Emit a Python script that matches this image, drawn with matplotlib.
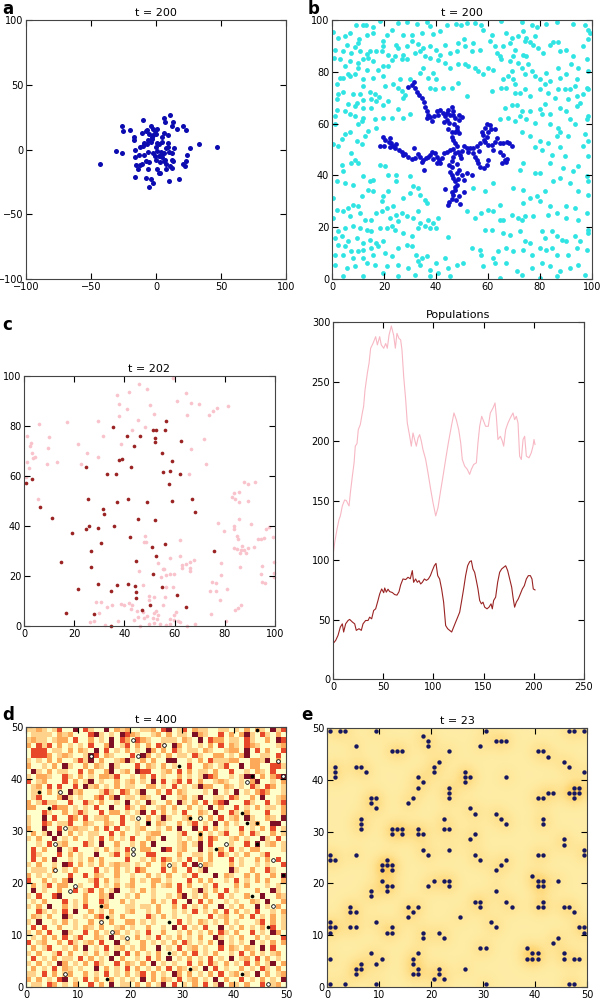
import matplotlib.pyplot as plt
import numpy as np
from matplotlib.colors import ListedColormap

plt.rcParams['font.family'] = 'DejaVu Sans'
plt.rcParams['font.size'] = 7

# ---------------- panel a : walkers, t = 200
a_pts = [(-43, -11), (-31, -1), (-26, -3), (-26, 18), (-25, 14), (-20, 15), (-17, 10), (-17, 7),
         (-16, 0), (-16, -6), (-16, -21), (-15, -12), (-14, -15), (-12, 2), (-12, -12), (-11, -11),
         (-10, 23), (-11, 13), (-9, -4), (-9, 5), (-8, 14), (-8, -22), (-8, -9), (-7, 15), (-6, 7),
         (-6, -15), (-5, -10), (-5, -29), (-4, 18), (-4, -23), (-3, 10), (-2, -26), (-2, -3), (-2, 11),
         (-1, 14), (0, 2), (1, 16), (1, 5), (1, -15), (2, -18), (2, -5), (3, -18), (4, -5), (5, 6),
         (5, 10), (6, 13), (6, -3), (6, 24), (7, 21), (7, -8), (8, -15), (8, -11), (9, 2), (9, 11),
         (10, -24), (11, 27), (12, 18), (12, -3), (12, -14), (12, -8), (13, 21), (13, -9), (14, 1),
         (16, 16), (18, -23), (21, 18), (21, -11), (22, -13), (23, 15), (23, -9), (24, -4), (26, 1),
         (33, 4), (47, 2), (-3, 8), (0, 12), (-4, 6), (2, 4), (4, -2), (0, -8), (3, -10), (-1, -5),
         (-6, -2), (8, 1), (10, -2), (-10, 3), (-2, 16), (5, -6), (9, 5), (-13, -4), (-7, 4), (1, -1),
         (6, -9), (11, -13), (-5, 12)]

# ---------------- panel b : DLA cluster and free particles, t = 200
b_free = [
    (0.5, 95.4), (2.4, 93.1), (5, 93.7), (6.9, 95), (9.2, 98.2), (11.8, 98.2), (13, 98), (15.6, 97.3),
    (18.4, 99.8), (22.9, 96.3), (25.5, 98.9), (29, 99.3), (32.8, 98.5), (36.4, 99.3), (37.7, 97.6),
    (44.1, 98.2), (47.7, 98.5), (41.5, 95.9), (38.7, 94.8), (34.5, 95), (30.6, 94.4), (27.4, 94.1),
    (21, 94.4), (19.5, 91.8), (15.9, 95), (13.3, 94.4), (10.5, 92.5), (10.1, 91.2), (8.8, 89.5),
    (5.6, 90.5), (1.1, 88.6), (0.7, 85.4), (4.3, 88), (3, 84.8), (7.5, 87.3), (10.7, 88), (13.6, 87),
    (14.6, 88.2), (16.9, 88), (19.1, 88), (19.7, 89.9), (24.8, 90.3), (25.5, 89.3), (28.7, 89.9),
    (30.6, 91.8), (33.2, 90.8), (35.1, 89.3), (37.7, 89.9), (40.2, 88.6), (43.4, 90.5), (48.6, 91.2),
    (47.9, 88), (45.4, 87.3), (41.5, 86.7), (40.9, 84.4), (43.4, 83.5), (45.4, 81.6), (48.6, 82.9),
    (37.7, 85.4), (35.7, 86.1), (33.8, 88), (31.9, 87.3), (27.4, 86.7), (28.7, 84.8), (26.8, 84.8),
    (24.2, 86.1), (21.6, 86.7), (22.9, 84.4), (21.6, 82.2), (19.7, 82.2), (15.9, 84.1), (14, 85.4),
    (12, 84.8), (10.1, 83.5), (6.9, 84.1), (5, 82.2), (10.1, 81.6), (13.3, 80.9), (17.8, 80.9),
    (6.3, 79), (4.3, 77.7), (3, 77.5), (6.9, 78.4), (8.8, 79.3), (1.8, 75.2), (12, 77.1), (15.9, 77.5),
    (19.7, 78.4), (20.4, 74.5), (23.6, 75.2), (25.5, 73.9), (26.1, 77.1), (30, 77.1), (33.8, 79.6),
    (35.1, 81.6), (37, 77.7), (39, 79.6), (40.2, 77.1), (42.8, 73.9), (37.7, 73.9), (39.6, 73.2),
    (46, 73.9), (48.6, 75.8), (1.8, 69.4), (2.4, 71.6), (4.3, 72.3), (8.2, 71.3), (10.7, 71.3),
    (12, 74.5), (14.6, 72.3), (16.5, 71.3), (18.2, 70.3), (17.1, 68.7), (15.2, 69.4), (12, 69),
    (9.5, 68.1), (6.3, 67.5), (5, 64.9), (1.8, 65.2), (1.1, 63), (8.8, 66.8), (8.8, 63), (6.9, 63.6),
    (12, 66.2), (15.2, 66.2), (12, 62.3), (11.4, 61.1), (10.1, 59.8), (19.7, 67.2), (21.6, 68.7),
    (25.5, 65.5), (27.4, 70), (30, 63.6), (27.4, 62.3), (22.9, 62.1), (19.7, 62.3), (16.5, 61.7),
    (28, 71), (26.8, 72.6), (1.1, 59.8), (5, 55.9), (6.9, 56.6), (3.7, 54), (9.5, 53.4), (11.4, 52.1),
    (12.7, 55.3), (14, 57.2), (17.1, 58.5), (0.5, 52.3), (2.4, 51.4),
    (49.8, 98.2), (51.8, 98.9), (55, 98.9), (57.5, 98), (58.2, 96.3), (61.4, 94.4), (65.2, 99.8),
    (72.9, 99.3), (76.8, 98.2), (78.7, 97.2), (82.5, 98.5), (86.4, 99.3), (92.8, 98.5), (97.3, 98.2),
    (98.6, 96.3), (50.7, 92.5), (51.1, 89.9), (53.7, 88), (54.3, 91.2), (56.9, 88.6), (60.7, 91.8),
    (62.7, 89.9), (63.3, 87.3), (64.6, 86.1), (65.9, 89.9), (67.1, 95), (68.4, 91.2), (69.1, 93.1),
    (70.4, 88.6), (71.6, 93.7), (73.6, 95.7), (74.2, 91.8), (74.8, 93.1), (76.1, 91.6), (78, 93.7),
    (77.4, 90.5), (79.3, 89.3), (81.3, 87.3), (83.8, 90.5), (85.1, 91.6), (87, 91.6), (87.7, 88),
    (90.2, 88.6), (92.8, 86.1), (96.6, 89.9), (98.6, 92.5), (99.2, 95), (97.9, 84.8), (51.1, 82.9),
    (52.4, 82.2), (55, 81.6), (56.3, 80.3), (58.2, 79), (60.1, 81.6), (62, 80.9), (65.2, 84.8),
    (68.4, 84.1), (69.7, 86.1), (71.6, 83.5), (73.6, 86.7), (74.8, 86.1), (75.5, 82.9), (72.9, 81.6),
    (69.1, 80.3), (67.8, 78.4), (69.7, 77.1), (65.9, 77.1), (65.2, 73.9), (67.1, 73.9), (70.4, 75.2),
    (74.2, 79), (76.8, 80.3), (78, 78.4), (80, 77.1), (82.5, 79.6), (83.8, 76.4), (87, 81.6),
    (87.7, 77.7), (90.2, 79), (92.1, 82.9), (94.7, 81.6), (98.6, 80.3), (94.1, 77.1), (93.4, 74.5),
    (91.5, 73.2), (97.9, 73.9), (51.8, 70.7), (61.4, 72.6), (70.4, 72), (72.3, 72), (74.2, 73.2),
    (76.1, 70.7), (80, 73.2), (81.9, 75.2), (83.2, 72), (85.7, 70), (87, 73.2), (89.6, 73.2),
    (90.9, 69.4), (94.1, 70.7), (96.6, 71.3), (98.6, 73.2), (66.5, 66.2), (69.1, 67.2), (71, 67.2),
    (72.9, 64.9), (72.3, 63), (76.1, 64.9), (80, 65.5), (81.9, 67.5), (83.8, 63.6), (87.7, 66.2),
    (90.2, 64.9), (94.1, 66.8), (95.4, 68.1), (98.6, 63), (97.9, 61.7), (64.6, 61.7), (67.8, 62.3),
    (70.4, 61.1), (74.8, 61.7), (78, 60.4), (80.6, 63.6), (83.8, 59.8), (87, 58.5), (91.5, 61.7),
    (93.4, 59.8), (72.9, 56.6), (76.1, 55.3), (80, 53.4), (83.2, 52.7), (86.4, 55.3), (87.7, 56.6),
    (90.9, 55.3), (97.3, 55.9), (98.6, 53.4), (96.6, 51.4), (78, 50.8), (87.7, 50.8),
    (7.5, 48.7), (8.8, 46.1), (7.5, 44.8), (10.1, 44.8), (4.3, 41.6), (1.8, 37.7), (5, 37.1),
    (8.2, 36.4), (12, 39.7), (14.6, 37.7), (15.9, 38.4), (18.4, 44.2), (20.4, 43.5), (21.6, 40.3),
    (24.8, 40.3), (24.8, 37.7), (30, 39.7), (31.3, 35.8), (33.2, 35.2), (33.8, 32.6), (35.7, 30.7),
    (36.4, 29.4), (30, 33.2), (27.4, 31.3), (21.6, 33.9), (19.7, 31.9), (19.1, 30), (15.9, 33.9),
    (14, 34.5), (11.4, 31.9), (10.1, 28.1), (8.2, 28.7), (6.3, 27.4), (1.8, 26.8), (4.3, 26.1),
    (6.9, 24.2), (10.7, 25.5), (12.7, 22.9), (15.2, 22.9), (17.1, 25.5), (19.1, 26.1), (21, 27.4),
    (23.6, 28.1), (24.8, 24.9), (26.8, 25.5), (28.7, 24.2), (25.5, 22.3), (22.3, 23.6), (33.2, 26.1),
    (31.3, 23.6), (33.8, 21.6), (37, 22.9), (39, 21.6), (40.9, 23.6), (40.2, 19.7), (37.7, 19.7),
    (35.7, 20.4), (33.2, 19.7), (30.6, 16.5), (27.4, 17.8), (24.2, 19.1), (22.9, 20.4), (21, 19.7),
    (18.4, 19.7), (15.2, 18.4), (13.3, 19.1), (10.7, 19.7), (8.2, 20.4), (5, 19.7), (2.4, 18.4),
    (1.1, 15.9), (3.7, 16.5), (6.3, 14.6), (9.5, 15.9), (12, 13.9), (14.6, 15.2), (17.1, 13.9),
    (19.7, 14.6), (17.8, 12.6), (15.2, 12), (12, 11.3), (10.1, 10.7), (7.5, 10.7), (5, 12.6),
    (2.4, 13.3), (1.1, 9.4), (4.3, 9.4), (8.2, 8.1), (12, 8.1), (15.9, 9.4), (20.4, 10.1), (22.9, 8.8),
    (25.5, 12), (28.7, 13.3), (30.6, 12.6), (32.5, 9.4), (34.5, 8.1), (33.2, 6.8), (36.4, 8.8),
    (40.2, 6.2), (43.4, 8.1), (1.1, 5.6), (5.6, 4.3), (8.8, 4.9), (13.3, 6.2), (16.5, 5.6), (21, 4.9),
    (25.5, 5.6), (29.3, 4.3), (33.8, 5.6), (37.7, 3.6), (40.9, 2.3), (44.7, 4.3), (47.9, 5.6),
    (44.7, 16.1), (4.3, 1), (12, 1), (19.7, 2.3), (25.5, 1), (31.9, 1.7), (37.7, 1), (45.4, 1),
    (3.7, 44.2), (0.5, 31.3), (0.5, 23.6),
    (80.6, 50), (84.5, 48), (89.6, 47.4), (98.6, 47.4), (73.6, 44.8), (83.8, 44.8), (89, 42.9),
    (92.8, 41.6), (94.7, 43.5), (97.9, 39.7), (98.6, 37.7), (72.3, 42.2), (78, 40.9), (80, 40.9),
    (69.7, 35.2), (73.6, 34.5), (76.1, 31.3), (78.7, 31.9), (80, 30), (81.9, 33.9), (85.1, 37.7),
    (87.7, 39), (91.5, 37.1), (94.7, 33.9), (98.6, 32.6), (54.3, 35.2), (62, 37.1), (58.8, 33.9),
    (64.6, 28.7), (73.6, 29.4), (83.8, 28.1), (90.2, 28.1), (93.4, 27.4), (97.9, 25.5), (51.8, 26.1),
    (55, 23.6), (57.5, 25.5), (60.1, 26.8), (62, 26.1), (64.6, 22.9), (65.9, 22.9), (69.1, 24.9),
    (71.6, 23.6), (72.9, 22.9), (74.2, 24.2), (77.4, 24.2), (83.2, 24.9), (86.4, 25.5), (90.2, 23.6),
    (94.7, 22.9), (98.6, 19.1), (58.8, 19.1), (61.4, 19.1), (65.9, 17.8), (68.4, 17.1), (72.3, 18.4),
    (74.2, 14.6), (76.1, 13.9), (80.6, 18.4), (81.9, 15.9), (84.5, 18.4), (86.4, 16.5), (88.3, 15.2),
    (90.2, 14.6), (93.4, 16.5), (95.4, 14.6), (98.6, 17.8), (53.7, 12), (56.9, 11.3), (57.5, 9.4),
    (62, 8.1), (63.9, 10.7), (67.1, 12), (69.7, 10.7), (73.6, 11.3), (76.8, 9.4), (80, 12),
    (82.5, 11.3), (84.5, 12), (86.4, 9.4), (90.9, 9.4), (94.1, 12), (97.9, 11.3), (50.5, 6.2),
    (58.2, 4.9), (62.7, 6.2), (67.1, 6.2), (71, 3), (72.9, 1.7), (76.8, 4.3), (80.6, 6.2), (83.8, 4.9),
    (87.7, 3), (91.5, 4.3), (94.7, 5.6), (97.3, 1.7), (64.6, 0.4), (80, 0.4), (86.4, 1)]

b_cluster = [
    (29.4, 74), (31.6, 76.2), (30.7, 74.9), (32, 73.7), (32.7, 72.4), (33.3, 71.1), (34.6, 69.8),
    (35.5, 68.5), (35.9, 66.6), (36.5, 64.7), (37.1, 63.4), (36.5, 62.1), (37.8, 62.7), (39.1, 63),
    (40.3, 64.7), (41.6, 65.3), (42.6, 64), (44.2, 64.3), (44.8, 65.3), (46.1, 66.6), (46.5, 64.7),
    (46.7, 63.4), (45.5, 63.4), (43.5, 63), (44.2, 61.4), (45.2, 60.2), (47, 59.9), (48.7, 61.4),
    (49, 63.4), (49.9, 62.7), (48, 58.9), (48, 57.6), (48.7, 56.3), (47.4, 56.9), (46.1, 56.9),
    (46.1, 55), (46.7, 53.7), (47.4, 52.4), (48, 51.2), (48.3, 49.2), (49.3, 47.9), (49.6, 46.7),
    (18.3, 51.4), (19.6, 54.8), (20.5, 53.7), (21.8, 53.1), (22.7, 52.4), (22.4, 54.4), (23.4, 51.2),
    (24.3, 50.5), (25.6, 49.9), (26.9, 49.2), (28.2, 48.3), (29.4, 47.3), (30.7, 46.3), (32, 46.7),
    (32.9, 48.3), (33.9, 47.3), (35.2, 46), (36.2, 46.7), (37.1, 47.3), (37.8, 47.9), (38.4, 49.2),
    (39.7, 48.6), (40.3, 47.3), (41, 46), (41.6, 44.7), (42.3, 46.7), (42.9, 48.6), (44.2, 49.2),
    (45.5, 49.9), (46.7, 50.1), (50.6, 51.2), (51.9, 50.5), (53.1, 50.5), (54.4, 50.5), (55.7, 51.2),
    (57, 52.4), (58.3, 53.7), (59.5, 55), (60.2, 56.9), (58.9, 58.2), (60.8, 59.5), (57.6, 56.9),
    (58, 55.7), (58.9, 53.1), (60.2, 51.8), (61.5, 51.8), (62.7, 53.1), (63.4, 54.4), (64.7, 52.4),
    (65.9, 52.4), (67.2, 53.1), (68.2, 52.4), (69.4, 51.2), (64.7, 49.2), (65.9, 47.9), (66.6, 46),
    (65.3, 44.7), (54.4, 48.6), (55.1, 47.3), (55.7, 46), (56.3, 44.7), (57, 43.4), (58.3, 42.8),
    (59.5, 44.1), (60.2, 46), (46.7, 47.3), (46.1, 45.4), (46.1, 43.4), (45.5, 41.5), (46.1, 40.2),
    (46.7, 38.9), (47.4, 37.7), (48, 40.9), (49, 42.2), (49.9, 40.2), (50.6, 38.3), (51.9, 40.9),
    (53.8, 40.2), (48, 36.4), (47.4, 34.4), (46.7, 32.5), (45.2, 29.9), (44.8, 28.7), (46.1, 30.8),
    (47.8, 30.6), (49.3, 29), (49, 31.9), (50.6, 33.8), (43.5, 34.7), (35.5, 42.2), (40.3, 44.7),
    (31.4, 50.5), (39, 46.2), (47.5, 48.5), (50, 49.5), (52.5, 49.2), (48.2, 44.5), (48.5, 38.8),
    (47.2, 35.5), (46, 33.5), (62.8, 57.8), (61, 58), (59.7, 60), (66.8, 45.2), (67.5, 46.5),
    (62, 50), (56.5, 49.5), (44.8, 57.8), (43, 60.5), (38.5, 61), (40.8, 63.2), (47.2, 62.2),
    (24.8, 52.2), (27.5, 47.8), (34.5, 45.2), (22.5, 50.8), (20.2, 51.5), (45, 44.2)]

# ---------------- panel c : predator / prey, t = 202
c_prey = [
    (1, 76), (1, 65.7), (2, 63.3), (2.3, 72), (2.9, 73.3), (3.2, 69.2), (3.6, 67.1), (4.2, 67.5),
    (0.7, 59.7), (5.5, 50.8), (6, 80.9), (10, 75.7), (9.7, 71.3), (9.2, 64.8), (13.3, 65.5),
    (17.3, 81.7), (21.6, 73), (22.6, 65), (25, 69.2), (29.6, 82), (29.4, 67.7), (31.6, 75.9),
    (36.9, 92.4), (37.8, 88.8), (37.8, 84), (38.6, 72.7), (41.2, 86.7), (41.9, 93.5), (43, 78.4),
    (45.8, 96.8), (45.5, 82.4), (48.2, 79.7), (48.9, 94.9), (50.2, 88.4), (51.8, 84.8), (59.4, 99.2),
    (61.1, 90), (64.4, 93.3), (64.8, 84.3), (65.7, 61), (66.4, 89.3), (66.7, 70.7), (69.7, 88.9),
    (71.8, 74.7), (72.4, 64.8), (73.7, 84.5), (75.3, 86.1), (77, 87.1), (81.4, 88),
    (87.8, 57.7), (91.9, 57.7), (89.2, 56.7), (82.7, 51.7), (83.5, 53.3), (85.5, 53.6), (84, 50.8),
    (85.8, 49.5), (89.2, 49.9), (90.6, 40.7), (77.4, 41.1), (79.5, 38.1), (83.8, 40.1), (83.7, 38.7),
    (85, 36), (85.4, 34.7), (85.8, 42.7), (86.7, 32.1), (83.7, 31.1), (85, 31), (86.3, 30.3),
    (87.6, 30.5), (88.6, 29.2), (89.1, 31.2), (91.5, 31.5), (85.9, 29.1), (93.2, 34.8), (94.5, 34.8),
    (95.5, 35.3), (96.6, 38.8), (97.6, 39.5), (99.2, 35.5), (99.5, 25.5), (99.5, 21.3), (99.5, 19.5),
    (95, 24), (94.4, 20.8), (94.7, 17.5), (96, 17.1), (85.9, 23.7), (78.5, 25.1), (78.5, 20.4),
    (76.6, 17.1), (74.9, 17.8), (74.2, 14), (76.6, 14.1), (77.9, 10.4), (81, 14.8), (80.6, 2.1),
    (84.2, 6.4), (85.1, 7.1), (86.6, 8.4), (74.4, 4.7),
    (48.1, 35.9), (48.7, 33.7), (47.7, 33.5), (45.7, 22), (47.5, 16.5), (62.3, 34.3), (62.2, 28),
    (58.1, 27.2), (53.5, 25.3), (55.2, 22.7), (55.9, 22.7), (56.7, 20.3), (54.7, 19.5), (58.1, 20.9),
    (59.9, 20.7), (62.8, 24.3), (63.1, 23.2), (64.7, 24.8), (66.2, 25.7), (66.3, 23.1), (66, 22.1),
    (67.7, 26.3), (59.2, 15.6), (56.7, 15.5), (55.4, 8.4), (56.3, 11.6), (51.9, 11.7), (49.7, 12),
    (49.9, 10.5), (47.3, 5.5), (44.9, 6), (42.6, 6.7), (43.1, 8.3), (41.7, 9.1), (39.7, 8.3),
    (38.5, 8.7), (37.4, 2), (34.9, 8.4), (33, 7.6), (30.8, 9.6), (28.6, 9.6), (29.9, 5.1), (27.8, 2),
    (26.2, 1.5), (32.1, 0.4), (43.7, 2.4), (45.3, 3.7), (47.7, 3.1), (48.9, 4), (49.8, 0.8),
    (51.4, 3.1), (53.1, 2.7), (53.2, 4.5), (51.7, 5.3), (52.7, 6.1), (58.3, 2.7), (59.6, 4.4),
    (60.4, 5.7), (59.9, 2.4), (61.4, 1.9), (62.2, 1.7), (58, 1), (68, 0.8), (65.1, 0.1), (56.7, 0.4),
    (46.1, 0.1), (51.8, 1.1), (54, 0.7)]

c_pred = [
    (0.7, 57.3), (3, 58.7), (6.4, 47.8), (11.3, 43.1), (14.6, 25.5), (16.9, 5.3), (19.3, 37.3),
    (21.6, 14.7), (24.7, 63.5), (25.6, 50.8), (24.7, 38.7), (25.9, 40), (26.8, 29.9), (26.8, 23.7),
    (27.9, 4.7), (29.4, 16.9), (29.5, 39.2), (30.8, 33.3), (31.3, 46.7), (31.9, 45), (33, 61),
    (34.8, 0), (34.8, 14.1), (35.7, 39.9), (35.4, 79.6), (36.6, 61), (36.9, 16.3), (37, 49.6),
    (37.8, 66.5), (39, 66.8), (41, 76.1), (41.6, 50.9), (41.3, 16.8), (42.4, 35.7), (42.6, 63.5),
    (43.8, 71.9), (44.1, 16), (44.8, 25.9), (44.8, 13.6), (44.8, 11.3), (46.2, 76), (45.5, 42.8),
    (47.1, 6.5), (48.9, 49.5), (50.2, 8.4), (51.1, 31.5), (51.3, 20.8), (51.5, 78.4), (52.4, 78.4),
    (52.2, 75.1), (52.2, 73.6), (52.1, 42.5), (52.4, 28), (54.8, 15.7), (55.1, 69.1), (55.2, 61.5),
    (56.2, 78.5), (56.2, 32.7), (56.6, 82.1), (57.6, 56.9), (58, 62.1), (58.8, 66.1), (59.1, 50.1),
    (61.1, 12.3), (62.2, 60.7), (62.4, 74), (64.7, 7.7), (66.9, 50.7), (68.1, 45.7), (75.6, 29.9)]

# ---------------- populations
prey_t = [0, 1.7, 4, 6, 7.3, 9.3, 11.6, 13.3, 15, 16, 17.3, 19.3, 21, 22.2, 23.9, 25.2, 27.2, 29.2,
          30.5, 31.9, 34.2, 35.9, 37.5, 39.8, 42.5, 44.2, 46.5, 48.1, 50.5, 52.5, 54.1, 55.8, 58.1,
          60.4, 62.1, 63.7, 65.7, 67.4, 68.7, 70.4, 72.4, 74, 76.4, 78, 79.7, 81.3, 83, 84.7, 86.3, 88,
          89.6, 92.3, 94.6, 97.3, 99.6, 102.3, 104.6, 106.9, 109.6, 112.2, 114.9, 117.9, 120.5, 122.8,
          125.2, 127.2, 128.8, 131.1, 133.8, 136.1, 137.8, 140.1, 142.8, 144.4, 146.1, 148.1, 150.1,
          152, 154.7, 156.7, 159.4, 161.4, 162.7, 164.3, 166.7, 168.7, 170, 172, 174.3, 176.6, 179.3,
          180.9, 182.6, 184.3, 185.9, 187.6, 189.3, 190.9, 192.6, 195.2, 197.5, 199.2, 200.2, 201.2]
prey_n = [103.6, 114.8, 126, 134, 137, 145.5, 150.5, 150, 147, 145.5, 156.6, 170.6, 181.7, 195.7,
          197.9, 209.6, 213.8, 223.6, 229.2, 243, 257, 265.4, 278, 282, 287.7, 280.8, 287.7, 280.8,
          278, 282, 278, 289, 296.7, 289, 278, 290.5, 286.3, 285, 276.6, 254.3, 234.7, 215.2, 204,
          195.7, 206.8, 201.3, 195.7, 202.6, 205.4, 199.9, 192.9, 184.5, 173.4, 159.4, 148.3, 137.1,
          144.1, 156.6, 170.6, 184.5, 198.5, 212.4, 223.6, 218, 209.6, 198.5, 184.5, 179, 176.2, 172,
          176.2, 180.3, 181.7, 198.5, 212.4, 220.8, 216.6, 212.4, 212.4, 223.6, 227.8, 232, 220.8,
          201.3, 204, 199.9, 195.7, 209.6, 215.2, 219.4, 223.6, 218, 220.8, 215.2, 187.3, 184.5,
          201.3, 204, 187.3, 185.9, 190.1, 195.7, 201.3, 197.1]
pred_t = [0, 2.7, 5, 7.3, 9.3, 10.6, 12.6, 15, 16.6, 19.3, 21.6, 23.2, 25.9, 28.2, 29.9, 32.5, 34.9,
          36.5, 38.5, 40.5, 42.5, 44.8, 46.5, 48.5, 50.5, 51.5, 53.1, 54.8, 56.4, 59.1, 61.4, 63.7,
          65.7, 67.4, 69.7, 72.4, 74.7, 77, 79, 80.3, 82.3, 84, 85.7, 87.3, 89, 91, 93, 95, 97, 98.9,
          100.9, 102.6, 104.3, 106.2, 108.2, 110.2, 112.2, 114.2, 116.2, 118.2, 120.2, 122.2, 124.2,
          126.2, 128.2, 130.1, 132.1, 134.1, 136.1, 137.8, 139.4, 141.1, 142.8, 144.4, 146.1, 147.8,
          149.4, 151.1, 153.4, 155.4, 157.4, 158.7, 160, 162, 164, 166, 168, 170, 172, 174, 176, 178,
          179.3, 180.9, 182.6, 184.6, 186.6, 188.6, 190.6, 192.6, 194.6, 196.6, 198.2, 199.5, 201.2]
pred_n = [29.7, 32.5, 36.7, 43.7, 46.4, 39.5, 46.4, 49.2, 50.1, 47.9, 46.4, 40.9, 42.3, 40.9, 46.4,
          49.2, 49.2, 52, 50.6, 57.6, 59, 66, 71.5, 75.7, 72.5, 76.5, 73, 75.5, 73.5, 72.7, 71, 70.5,
          73.3, 79.1, 84.1, 83.6, 85.5, 84.3, 91.1, 81.3, 84.1, 81.3, 82.7, 79.9, 81.3, 84.1, 82.9,
          84.1, 86.9, 91.1, 95.2, 97.2, 86.9, 84.1, 75.7, 64.6, 45, 42.3, 40.9, 39.5, 43.7, 47.9, 52,
          56.2, 66, 75.7, 86.9, 95.2, 98.6, 99.4, 92.5, 89.7, 82.7, 75.7, 66, 63.2, 64.6, 60.4, 59,
          60.4, 63.2, 59, 66, 68.8, 81.3, 89.7, 92.5, 93.9, 95.2, 91.1, 84.1, 77.1, 68.8, 60.4, 64.6,
          67.4, 71.5, 75.7, 78.5, 84.1, 86.9, 86.9, 84.1, 75.7, 74.9]

# ---------------- panel d : grid states (top row first), agents, t = 400
d_rows = [
    "1121013004 0310040212 0011203401 3021100110 1020210413",
    "0111102120 0034101043 2100120201 1042100302 0241031020",
    "1211012203 0020104032 0321001110 2104032201 1031002043",
    "2031302010 1030024013 0202031042 0101020302 1032100012",
    "0333011020 2104030102 0104202031 0110210012 2040302003",
    "0333201210 0143021000 3042010201 1031002201 0240011030",
    "1010202001 3140200124 1020200440 0102031112 2002214020",
    "2001020410 0202104100 0302102010 0300210130 0402200331",
    "0410201100 3020024012 0433001203 0201102003 0010210300",
    "1022100310 2010221300 1020301002 0101432001 0144020234",
    "3012000302 0140100201 2010403013 0302001210 0102400102",
    "0120303003 0412010201 1002201030 1014220021 0103103201",
    "0110201041 2000131032 0140020302 1000104010 4010232001",
    "0130002410 1002302401 1021004001 2014001103 2002040012",
    "2013110030 0310200104 0104100204 1020302340 0031003013",
    "2200032201 0103004003 1020012020 0201040200 3010201102",
    "0003100201 3100302201 0140302010 3002104003 1020003002",
    "1004030032 0301120030 1002014100 1201020301 2041002104",
    "1003201130 0210021030 0104021002 0130104020 1001200440",
    "2004003012 1102030301 0120010204 0040302010 0301020301",
    "0201404020 1011003020 0101220001 3002010130 0203100201",
    "1020040102 0010302010 3002104001 0102032001 2010041030",
    "0010301200 0310400200 1020400001 2014030001 0030401201",
    "0302004013 0001020103 0022004301 2004010203 0102200001",
    "0310003020 1004001302 0003300002 0011020310 1020013000",
    "0302040010 1020200003 0010203201 0302020003 0100202030",
    "1020010430 2010201211 0102002010 3040210002 0100101003",
    "0111020102 0003010201 0320003020 0301400004 1002003100",
    "2010100030 0302100200 1002010200 1030004021 0020200204",
    "3002010240 0013020100 2010220100 0302020010 3010202002",
    "0201302200 1003010201 2000201203 0200103000 2020001010",
    "0401002003 0130201400 1020100003 0014102030 1000200410",
    "1030034000 0200214001 0200100102 4010200301 0020040021",
    "0102000301 0200310020 1000201030 0403020010 1002104002",
    "1020400201 0300120001 1011020020 3010200401 0200401020",
    "0031010304 0020102001 2001020010 1030102030 2010300102",
    "0210200410 0102301020 0003102010 0100030120 0203010201",
    "1040010201 0020102002 2010100003 0102101020 1000130201",
    "0303002001 0210200120 1002001040 3010300401 0201020301",
    "1020300410 0302010201 0103002001 0201020310 2003010420",
    "0102020301 3002104010 0201030102 0102004101 0200201003",
    "3012002031 0120300401 0020101020 3101020401 0104010202",
    "0201300102 0401030120 1020040103 0120100302 1021040300",
    "1020013020 0102010403 0201020010 2030102001 0302010120",
    "0301020110 3020104020 0103020401 0201030104 0120302010",
    "1020104201 0203100302 1020401010 0302031020 1030201402",
    "0201030210 1004020103 0201020302 1010403010 0201031020",
    "1103020120 0201030102 0130201042 0201020301 2010402012",
    "2020103401 0302002010 1040202103 0120104020 0301020104",
    "0110320102 0030204011 0202014030 1020301402 1020030120"]
d_black = [(44.5, 49.5), (29.5, 42.5), (43.5, 40.5), (2.5, 37.5), (4.5, 34.5), (41.5, 33.5),
           (31.5, 32.5), (23.5, 31.5), (42.5, 31.5), (44.5, 31.5), (33.5, 29.5), (44.5, 27.5),
           (36.5, 26.5), (49.5, 21.5), (43.5, 17.5), (14.5, 15.5), (15.5, 13.5), (27.5, 12.5),
           (46.5, 11.5), (27.5, 6.5), (31.5, 3.5), (41.5, 2.5), (15.5, 1.5)]
d_white = [(20.5, 47.5), (26.5, 46.5), (12.5, 44.5), (21.5, 44.5), (48.5, 43.5), (49.5, 40.5),
           (42.5, 39.5), (6.5, 37.5), (21.5, 32.5), (33.5, 32.5), (7.5, 30.5), (5.5, 27.5),
           (20.5, 26.5), (20.5, 25.5), (38.5, 27.5), (27.5, 23.5), (33.5, 23.5), (47.5, 24.5),
           (5.5, 22.5), (9.5, 19.5), (8.5, 18.5), (47.5, 15.5), (14.5, 12.5), (16.5, 10.5),
           (19.5, 9.5), (7.5, 2.5), (46.5, 0.5)]

# ---------------- panel e : agents on a grid, t = 23 (y -> list of x)
e_rows = {
    49.5: [0.5, 2.5, 3.5, 9.5, 30.5, 46.5, 47.5, 49.5], 48.5: [18.5],
    47.5: [19.5, 32.5, 33.5, 34.5], 46.5: [5.5, 19.5, 29.5],
    45.5: [12.5, 13.5, 14.5, 23.5, 40.5, 41.5], 44.5: [42.5], 43.5: [21.5, 45.5],
    42.5: [1.5, 5.5, 6.5, 20.5, 46.5], 41.5: [1.5, 7.5, 20.5, 26.5, 49.5],
    40.5: [1.5, 17.5, 26.5, 27.5, 34.5], 39.5: [18.5, 26.5], 38.5: [17.5, 23.5, 47.5, 48.5],
    37.5: [23.5, 42.5, 43.5, 46.5, 47.5, 48.5], 36.5: [8.5, 9.5, 16.5, 23.5, 40.5, 41.5, 47.5],
    35.5: [8.5, 15.5], 34.5: [9.5, 27.5], 33.5: [28.5, 32.5], 32.5: [6.5, 22.5, 33.5, 41.5],
    31.5: [6.5, 34.5, 41.5], 30.5: [6.5, 12.5, 13.5, 14.5, 17.5, 22.5, 23.5],
    29.5: [12.5, 14.5, 17.5, 18.5, 28.5], 28.5: [27.5, 45.5], 27.5: [45.5],
    26.5: [18.5, 23.5, 49.5], 25.5: [0.5, 5.5, 19.5, 28.5, 40.5, 41.5, 49.5],
    24.5: [0.5, 1.5, 11.5, 29.5, 34.5], 23.5: [10.5, 11.5, 12.5, 33.5], 22.5: [10.5, 12.5, 32.5],
    21.5: [39.5], 20.5: [10.5, 20.5, 22.5, 23.5, 40.5, 41.5, 44.5],
    19.5: [11.5, 12.5, 19.5, 23.5, 40.5, 41.5], 18.5: [8.5, 11.5, 32.5], 17.5: [8.5],
    16.5: [28.5, 29.5, 34.5, 41.5], 15.5: [4.5, 15.5, 17.5, 29.5, 35.5, 40.5, 41.5, 45.5, 46.5],
    14.5: [4.5, 5.5, 16.5, 47.5], 13.5: [15.5, 25.5], 12.5: [0.5, 9.5, 31.5],
    11.5: [0.5, 1.5, 4.5, 5.5, 12.5, 32.5, 48.5, 49.5], 10.5: [0.5, 11.5, 12.5, 18.5, 21.5, 49.5],
    9.5: [18.5, 22.5, 44.5], 8.5: [43.5], 7.5: [29.5, 30.5, 38.5],
    6.5: [8.5, 17.5, 39.5, 40.5, 45.5],
    5.5: [0.5, 10.5, 16.5, 38.5, 39.5, 40.5, 45.5, 47.5, 48.5], 4.5: [6.5, 9.5, 16.5],
    3.5: [5.5, 6.5, 17.5, 21.5, 26.5], 2.5: [5.5, 16.5, 17.5, 21.5], 1.5: [20.5, 22.5],
    0.5: [0.5, 3.5, 9.5, 30.5, 46.5, 47.5]}


def style(ax, title):
    ax.set_title(title, fontsize=8, pad=3)
    ax.tick_params(direction='in', top=True, right=True, length=4, labelsize=7, pad=2)
    for s in ax.spines.values():
        s.set_color('#444444')


fig = plt.figure(figsize=(6, 9.98), dpi=100)

# a
ax = fig.add_axes([0.0433, 0.7204, 0.4333, 0.2595])
a = np.array(a_pts)
ax.scatter(a[:, 0], a[:, 1], s=13, c='#0b0bb0', linewidths=0)
ax.set_xlim(-100, 100)
ax.set_ylim(-100, 100)
ax.set_xticks([-100, -50, 0, 50, 100])
ax.set_yticks([-100, -50, 0, 50, 100])
style(ax, 't = 200')

# b
ax = fig.add_axes([0.5533, 0.7204, 0.4333, 0.2595])
f = np.array(b_free)
cl = np.array(b_cluster)
ax.scatter(f[:, 0], f[:, 1], s=12, c='#30e4e4', linewidths=0)
ax.scatter(cl[:, 0], cl[:, 1], s=12, c='#1010c8', linewidths=0)
ax.set_xlim(0, 100)
ax.set_ylim(0, 100)
ax.set_xticks(range(0, 101, 20))
ax.set_yticks(range(0, 101, 20))
style(ax, 't = 200')

# c
ax = fig.add_axes([0.04, 0.3727, 0.4183, 0.2505])
p = np.array(c_prey)
q = np.array(c_pred)
ax.scatter(p[:, 0], p[:, 1], s=7, c='#f9c3cc', linewidths=0, clip_on=False)
ax.scatter(q[:, 0], q[:, 1], s=7, c='#9a2323', linewidths=0, clip_on=False)
ax.set_xlim(0, 100)
ax.set_ylim(0, 100)
ax.set_xticks(range(0, 101, 20))
ax.set_yticks(range(0, 101, 20))
style(ax, 't = 202')

# populations
ax = fig.add_axes([0.555, 0.3196, 0.4183, 0.3577])
ax.plot(prey_t, prey_n, color='#f7b8c4', lw=0.8)
ax.plot(pred_t, pred_n, color='#9a2323', lw=0.8)
ax.set_xlim(0, 250)
ax.set_ylim(0, 300)
ax.set_xticks(range(0, 251, 50))
ax.set_yticks(range(0, 301, 50))
style(ax, 'Populations')

# d
ax = fig.add_axes([0.0433, 0.011, 0.4333, 0.2605])
grid = np.array([[int(ch) for ch in r.replace(' ', '').ljust(50, '0')[:50]] for r in d_rows])
cmap_d = ListedColormap(['#ffffcc', '#fed28a', '#fca95a', '#e8482a', '#7d1024'])
ax.imshow(grid, cmap=cmap_d, vmin=-0.5, vmax=4.5, extent=(0, 50, 0, 50),
          interpolation='nearest', aspect='auto')
bk = np.array(d_black)
wh = np.array(d_white)
ax.scatter(bk[:, 0], bk[:, 1], s=7, c='black', linewidths=0)
ax.scatter(wh[:, 0], wh[:, 1], s=7, facecolors='white', edgecolors='black', linewidths=0.6)
ax.set_xlim(0, 50)
ax.set_ylim(0, 50)
ax.set_xticks(range(0, 51, 10))
ax.set_yticks(range(0, 51, 10))
style(ax, 't = 400')

# e
ax = fig.add_axes([0.545, 0.011, 0.4333, 0.2595])
ex = np.array([x for y, xs in e_rows.items() for x in xs])
ey = np.array([y for y, xs in e_rows.items() for x in xs])
cc = np.arange(50) + 0.5
gx, gy = np.meshgrid(cc, cc[::-1])
field = np.full(gx.shape, 0.19)
for x0, y0 in zip(ex, ey):
    field += 0.035 * np.exp(-((gx - x0) ** 2 + (gy - y0) ** 2) / (2 * 1.4 ** 2))
ax.imshow(field, cmap='YlOrBr', vmin=0, vmax=1, extent=(0, 50, 0, 50),
          interpolation='bilinear', aspect='auto')
ax.scatter(ex, ey, s=10, c='#17175f', linewidths=0, clip_on=False)
ax.set_xlim(0, 50)
ax.set_ylim(0, 50)
ax.set_xticks(range(0, 51, 10))
ax.set_yticks(range(0, 51, 10))
style(ax, 't = 23')

for lab, x, y in [('a', 0.004, 0.9995), ('b', 0.512, 0.9995), ('c', 0.004, 0.683),
                  ('d', 0.004, 0.2925), ('e', 0.502, 0.2925)]:
    fig.text(x, y, lab, fontsize=12, fontweight='bold', va='top', ha='left')

fig.savefig('out.png', dpi=100)
